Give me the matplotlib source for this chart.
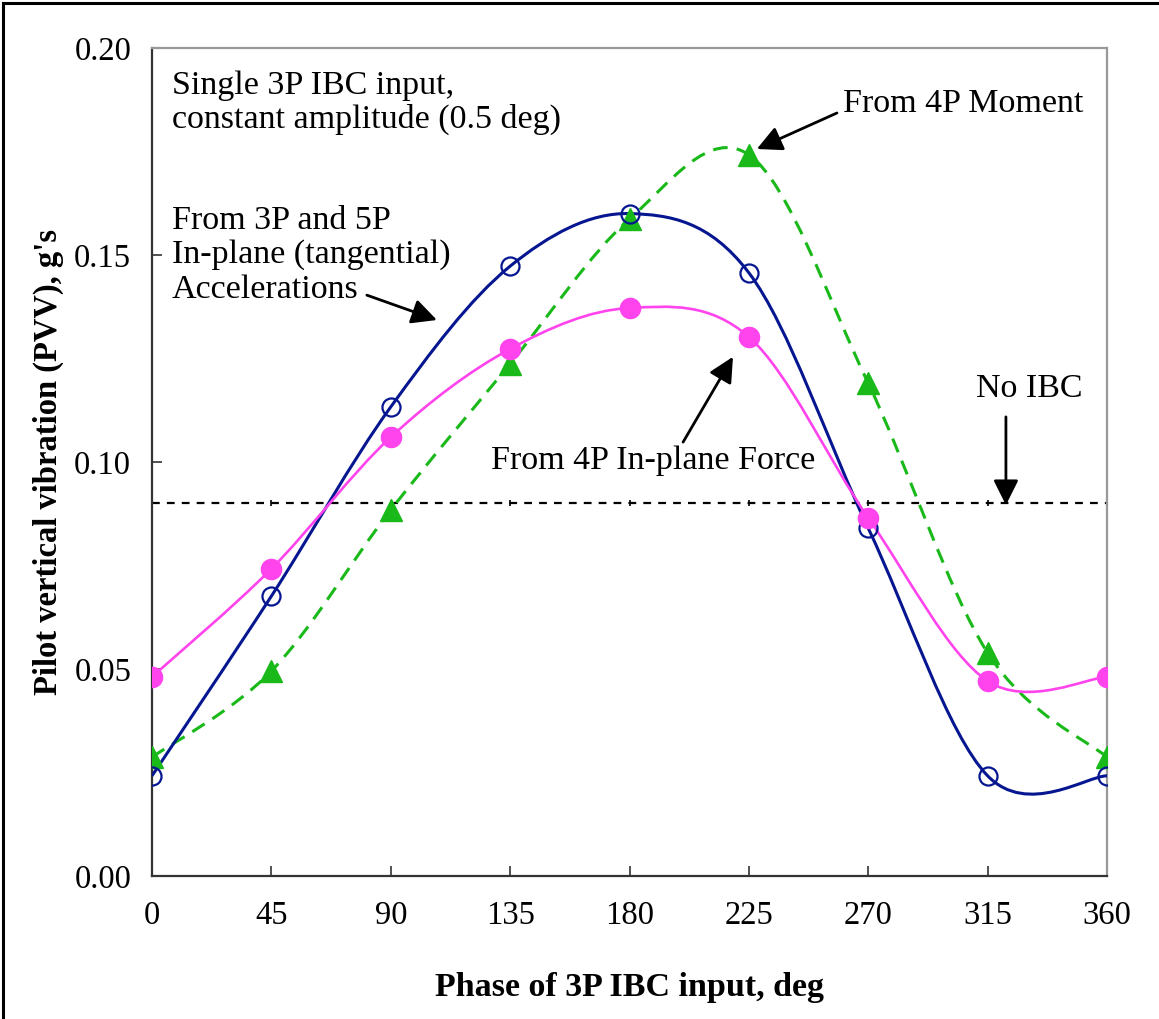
import numpy as np
import matplotlib
matplotlib.use('Agg')
import matplotlib.pyplot as plt
from matplotlib.path import Path
from matplotlib.patches import PathPatch
from matplotlib.lines import Line2D

plt.rcParams['font.family'] = ['Liberation Serif', 'DejaVu Serif']

# phase of 3P IBC input, deg
phase = [0, 45, 90, 135, 180, 225, 270, 315, 360]

# pilot vertical vibration, g's
accel_3p5p = [0.0242, 0.0676, 0.1133, 0.1473, 0.1600, 0.1457, 0.0840, 0.0242, 0.0242]
force_4p = [0.0481, 0.0742, 0.1060, 0.1273, 0.1372, 0.1302, 0.0865, 0.0471, 0.0481]
moment_4p = [0.0287, 0.0495, 0.0884, 0.1237, 0.1587, 0.1742, 0.1190, 0.0539, 0.0287]
no_ibc = [0.09] * 9

xticks = [0, 45, 90, 135, 180, 225, 270, 315, 360]
yticks = [0.00, 0.05, 0.10, 0.15, 0.20]


def smooth_path(x, y):
    # Excel-like smoothed line: cubic bezier, catmull-rom control points
    p = np.column_stack([x, y]).astype(float)
    n = len(p)
    verts = [p[0]]
    codes = [Path.MOVETO]
    for i in range(n - 1):
        p0 = p[i - 1] if i > 0 else p[i]
        p3 = p[i + 2] if i + 2 < n else p[i + 1]
        c1 = p[i] + (p[i + 1] - p0) / 6.0
        c2 = p[i + 1] - (p3 - p[i]) / 6.0
        verts += [c1, c2, p[i + 1]]
        codes += [Path.CURVE4] * 3
    return Path(verts, codes)


fig = plt.figure(figsize=(11.59, 10.19), dpi=100)
ax = fig.add_axes([152 / 1159, 143 / 1019, 955 / 1159, 828 / 1019])

# no IBC reference
ax.plot(phase, no_ibc, color='k', lw=1.6, ls=(0, (3.5, 3.2)),
        marker='|', ms=5, mew=1.2, zorder=2)

# curves
ax.add_patch(PathPatch(smooth_path(phase, moment_4p), fill=False,
                       edgecolor='#19b919', lw=2.2, ls=(0, (4.8, 3.0)), zorder=3))
ax.add_patch(PathPatch(smooth_path(phase, accel_3p5p), fill=False,
                       edgecolor='#061690', lw=2.2, zorder=4))
ax.add_patch(PathPatch(smooth_path(phase, force_4p), fill=False,
                       edgecolor='#ff44ee', lw=1.9, zorder=5))

ax.plot(phase, moment_4p, ls='none', marker='^', ms=16, color='#19b919', zorder=6)
ax.plot(phase, accel_3p5p, ls='none', marker='o', ms=13, mfc='none',
        mec='#061690', mew=1.6, zorder=7)
ax.plot(phase, force_4p, ls='none', marker='o', ms=14.5, color='#ff44ee', zorder=8)

ax.set_xlim(0, 360)
ax.set_ylim(0, 0.20)
ax.set_xticks(xticks)
ax.set_yticks(yticks)
ax.set_yticklabels(['%.2f' % v for v in yticks])
ax.tick_params(direction='in', length=7, width=1.2, labelsize=23.5, color='#333333')
ax.tick_params(axis='x', pad=18)
ax.tick_params(axis='y', pad=15)

ax.spines['left'].set_color('#333333')
ax.spines['bottom'].set_color('#333333')
ax.spines['top'].set_color('#999999')
ax.spines['right'].set_color('#999999')
for s in ax.spines.values():
    s.set_linewidth(1.6)

ax.set_xlabel('Phase of 3P IBC input, deg', fontsize=24.5, fontweight='bold', labelpad=29)
ax.set_ylabel("Pilot vertical vibration (PVV), g's", fontsize=23.5, fontweight='bold', labelpad=7)

# annotations
fs = 24.5
ax.text(7.5, 0.1889, 'Single 3P IBC input,', fontsize=fs, va='baseline')
ax.text(7.5, 0.1807, 'constant amplitude (0.5 deg)', fontsize=fs, va='baseline')
ax.text(7.5, 0.1563, 'From 3P and 5P', fontsize=fs, va='baseline')
ax.text(7.5, 0.1481, 'In-plane (tangential)', fontsize=fs, va='baseline')
ax.text(7.5, 0.1396, 'Accelerations', fontsize=fs, va='baseline')
ax.text(260.5, 0.1845, 'From 4P Moment', fontsize=fs, va='baseline')
ax.text(127.8, 0.0983, 'From 4P In-plane Force', fontsize=fs, va='baseline')
ax.text(310.6, 0.1157, 'No IBC', fontsize=fs, va='baseline')

arrow = dict(arrowstyle='-|>', color='k', lw=2, mutation_scale=38, shrinkA=0, shrinkB=0)
ax.annotate('', xy=(107.4, 0.1343), xytext=(81.0, 0.1403), arrowprops=arrow)
ax.annotate('', xy=(228.0, 0.1756), xytext=(258.2, 0.1843), arrowprops=arrow)
ax.annotate('', xy=(219.0, 0.1254), xytext=(200.2, 0.1048), arrowprops=arrow)
ax.annotate('', xy=(321.9, 0.0896), xytext=(321.9, 0.1109), arrowprops=arrow)

# outer frame (left and top edges visible)
fig.add_artist(Line2D([0.003, 0.003], [0, 0.997], color='k', lw=2.2))
fig.add_artist(Line2D([0.003, 1], [0.997, 0.997], color='k', lw=2.2))

fig.savefig('out.png', dpi=100)
